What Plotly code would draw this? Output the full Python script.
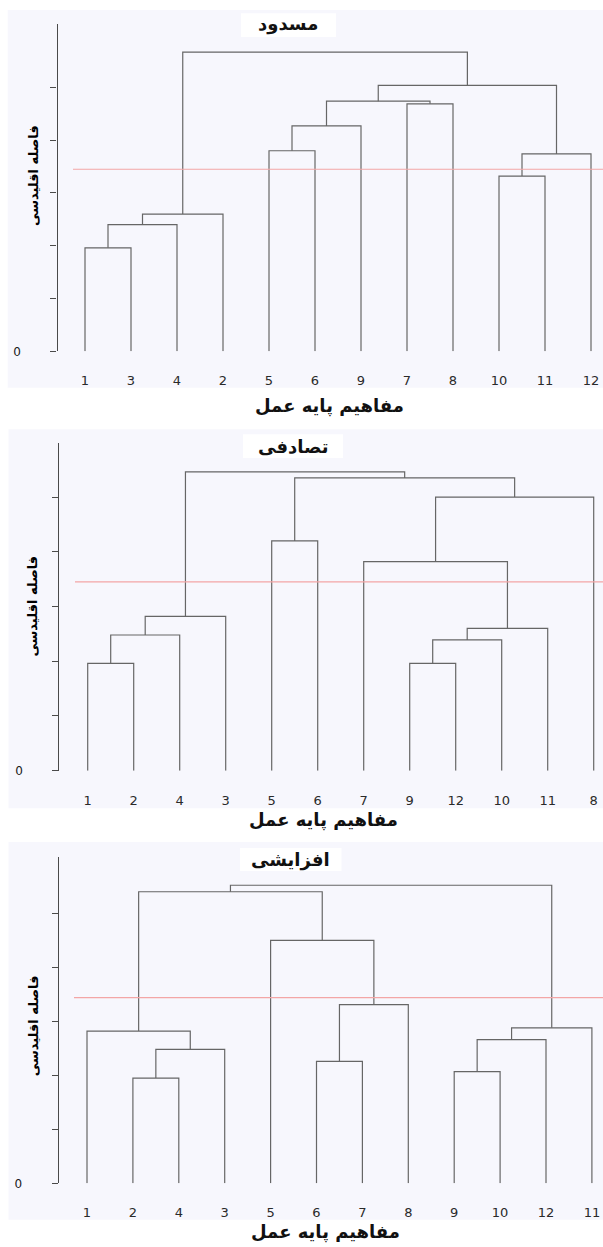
import plotly.graph_objects as go

W, H = 603, 1247

# ---- data -------------------------------------------------------------
titles = ["مسدود", "تصادفی", "افزایشی"]
x_title = "مفاهیم پایه عمل"
y_title = "فاصله اقلیدسی"

# leaf order along the x axis of each dendrogram
leaves_closed = ["1", "3", "4", "2", "5", "6", "9", "7", "8", "10", "11", "12"]
leaves_random = ["1", "2", "4", "3", "5", "6", "7", "9", "12", "10", "11", "8"]
leaves_increasing = ["1", "2", "4", "3", "5", "6", "7", "8", "9", "10", "12", "11"]

# merges: (left, right, distance); "mK" is the cluster made by the K-th merge
merges_closed = [
    ("1", "3", 9.8), ("m0", "4", 12.0), ("m1", "2", 13.0),
    ("5", "6", 19.0), ("m3", "9", 21.35), ("7", "8", 23.45),
    ("m4", "m5", 23.7), ("10", "11", 16.6), ("m7", "12", 18.7),
    ("m6", "m8", 25.2), ("m2", "m9", 28.35),
]
merges_random = [
    ("1", "2", 9.8), ("m0", "4", 12.4), ("m1", "3", 14.1),
    ("5", "6", 21.0), ("9", "12", 9.8), ("m4", "10", 11.95),
    ("m5", "11", 13.0), ("7", "m6", 19.1), ("m7", "8", 25.0),
    ("m3", "m8", 26.75), ("m2", "m9", 27.3),
]
merges_increasing = [
    ("2", "4", 9.75), ("m0", "3", 12.4), ("1", "m1", 14.1),
    ("6", "7", 11.3), ("m3", "8", 16.55), ("5", "m4", 22.5),
    ("m2", "m5", 27.0), ("9", "10", 10.35), ("m7", "12", 13.3),
    ("m8", "11", 14.4), ("m6", "m9", 27.6),
]

# cut-off distance drawn as a horizontal line
cut_levels = [17.25, 17.25, 17.2]
y_ticks = [0, 5, 10, 15, 20, 25]

# ---- geometry (pixels) ------------------------------------------------
panels = [
    dict(leaves=leaves_closed, merges=merges_closed,
         axis_x=57.5, y_top=24.0, y_zero=353.3, y_max=31.02,
         leaf0=85.0, step=46.0, cut_x0=73.0,
         bg=(7.7, 10.0, 390.0), tbox=(241, 13.3, 336, 37.3), tpos=(288, 24),
         xt=(329, 408), yt=(33, 177)),
    dict(leaves=leaves_random, merges=merges_random,
         axis_x=59.4, y_top=446.0, y_zero=775.0, y_max=29.9,
         leaf0=87.7, step=46.0, cut_x0=75.0,
         bg=(8.5, 431.7, 812.7), tbox=(243, 436.7, 343, 460.7), tpos=(293, 449),
         xt=(323, 825), yt=(33, 610)),
    dict(leaves=leaves_increasing, merges=merges_increasing,
         axis_x=58.8, y_top=861.7, y_zero=1190.0, y_max=30.23,
         leaf0=87.0, step=45.9, cut_x0=74.0,
         bg=(8.5, 846.7, 1226.7), tbox=(240, 852.7, 341.5, 876), tpos=(290, 864.5),
         xt=(325, 1239), yt=(33, 1032)),
]

LINE = "#666666"
AXIS = "#4a4a4a"
BG = "#f7f7fd"
CUT = "#f3a6a6"
FONT_NUM = "DejaVu Sans"
FONT_FA = "DejaVu Sans"


def px(x):
    return x / W


def py(y):
    return 1 - y / H


def dendro_path(leaves, merges):
    pos = {lab: (float(i), 0.0) for i, lab in enumerate(leaves)}
    xs, ys = [], []
    for k, (a, b, h) in enumerate(merges):
        xa, ha = pos[a]
        xb, hb = pos[b]
        xs += [xa, xa, xb, xb, None]
        ys += [ha, h, h, hb, None]
        pos[f"m{k}"] = ((xa + xb) / 2, h)
    return xs, ys


fig = go.Figure()
shapes, annotations = [], []
layout = {}

for i, p in enumerate(panels):
    n = i + 1
    xa = "x" if n == 1 else f"x{n}"
    ya = "y" if n == 1 else f"y{n}"
    last = len(p["leaves"]) - 1
    xr0 = -(p["leaf0"] - p["axis_x"]) / p["step"]
    xr1 = last + (W - (p["leaf0"] + p["step"] * last)) / p["step"]

    xs, ys = dendro_path(p["leaves"], p["merges"])
    fig.add_trace(go.Scatter(x=xs, y=ys, mode="lines", xaxis=xa, yaxis=ya,
                             line=dict(color=LINE, width=1.2), hoverinfo="skip",
                             showlegend=False))
    # cut-off line
    cx0 = (p["cut_x0"] - p["leaf0"]) / p["step"]
    fig.add_trace(go.Scatter(x=[cx0, xr1], y=[cut_levels[i]] * 2, mode="lines",
                             xaxis=xa, yaxis=ya, line=dict(color=CUT, width=1.2),
                             hoverinfo="skip", showlegend=False))

    layout[f"xaxis{'' if n == 1 else n}"] = dict(
        domain=[px(p["axis_x"]), 1], range=[xr0, xr1], anchor=ya,
        tickmode="array", tickvals=list(range(len(p["leaves"]))), ticktext=p["leaves"],
        ticks="", showline=False, showgrid=False, zeroline=False,
        tickfont=dict(family=FONT_NUM, size=13, color="#2a2a2a"),
        ticklabelstandoff=20, fixedrange=True,
    )
    layout[f"yaxis{'' if n == 1 else n}"] = dict(
        domain=[py(p["y_zero"]), py(p["y_top"])], range=[0, p["y_max"]], anchor=xa,
        tickmode="array", tickvals=y_ticks, ticktext=["0"] + [""] * (len(y_ticks) - 1),
        ticks="outside", ticklen=6, tickcolor=AXIS, tickwidth=1,
        showline=True, linecolor=AXIS, linewidth=1.3,
        showgrid=False, zeroline=False, ticklabelstandoff=27,
        tickfont=dict(family=FONT_NUM, size=12, color="#1a1a1a"), fixedrange=True,
    )
    # inner half of the tick marks
    layout[f"yaxis{n + 3}"] = dict(
        overlaying=ya, anchor=xa, range=[0, p["y_max"]], tickmode="array",
        tickvals=y_ticks, ticks="inside", ticklen=4, tickcolor=AXIS,
        showticklabels=False, showline=False, showgrid=False, zeroline=False,
        fixedrange=True,
    )

    bx0, by0, by1 = p["bg"]
    shapes.append(dict(type="rect", xref="paper", yref="paper", layer="below",
                       x0=px(bx0), x1=1, y0=py(by1), y1=py(by0),
                       fillcolor=BG, line=dict(width=0)))
    tx0, ty0, tx1, ty1 = p["tbox"]
    shapes.append(dict(type="rect", xref="paper", yref="paper", layer="below",
                       x0=px(tx0), x1=px(tx1), y0=py(ty1), y1=py(ty0),
                       fillcolor="white", line=dict(width=0)))

    annotations.append(dict(text=f"<b>{titles[i]}</b>", xref="paper", yref="paper",
                            x=px(p["tpos"][0]), y=py(p["tpos"][1]), showarrow=False,
                            xanchor="center", yanchor="middle",
                            font=dict(family=FONT_FA, size=18, color="#111")))
    annotations.append(dict(text=f"<b>{x_title}</b>", xref="paper", yref="paper",
                            x=px(p["xt"][0]), y=py(p["xt"][1]), showarrow=False,
                            xanchor="center", yanchor="middle",
                            font=dict(family=FONT_FA, size=18, color="#111")))
    annotations.append(dict(text=f"<b>{y_title}</b>", xref="paper", yref="paper",
                            x=px(p["yt"][0]), y=py(p["yt"][1]), showarrow=False,
                            xanchor="center", yanchor="middle", textangle=-90,
                            font=dict(family=FONT_FA, size=13, color="#000")))

fig.update_layout(
    width=W, height=H, margin=dict(l=0, r=0, t=0, b=0),
    paper_bgcolor="white", plot_bgcolor="rgba(0,0,0,0)",
    shapes=shapes, annotations=annotations, showlegend=False,
    **layout,
)

fig.write_html("out.html", config={"displayModeBar": False})
